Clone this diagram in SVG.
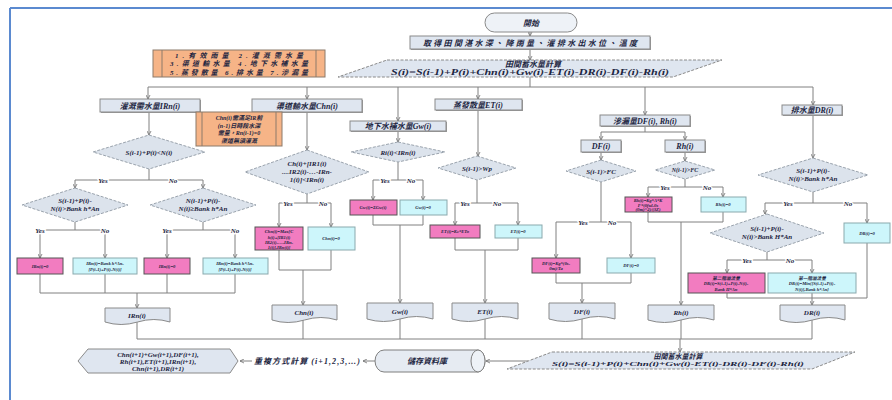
<svg xmlns="http://www.w3.org/2000/svg" width="892" height="400" viewBox="0 0 892 400">
<defs>
<marker id="ah" viewBox="0 0 10 10" refX="9" refY="5" markerWidth="5" markerHeight="5" orient="auto"><path d="M1,1 L9,5 L1,9" fill="none" stroke="#6f6f6f" stroke-width="1.6"/></marker>
<style>
.ln{stroke:#808080;fill:none;stroke-width:1}
.a{marker-end:url(#ah)}
.box{fill:#dfe6f0;stroke:#8a8a8a;stroke-width:1}
.sh{fill:#9a9a9a}
.pk{fill:#f27cc0;stroke:#555;stroke-width:1}
.cy{fill:#cdf6fb;stroke:#8aa9ad;stroke-width:1}
.dm{fill:#dce3ec;stroke:#9aa3ad;stroke-width:1;stroke-dasharray:3 1.5}
.or{fill:#f6b487;stroke:#8c7a6a;stroke-width:1}
.t{font-family:"Liberation Serif","Noto Sans CJK TC",serif;font-style:italic;font-weight:bold;fill:#1c2541;text-anchor:middle}
.s8{font-size:8px}.s7{font-size:7px}.s5{font-size:4.6px}.s6{font-size:6px}
.yn{font-family:"Liberation Serif",serif;font-style:italic;font-weight:bold;font-size:7px;fill:#1c2541;text-anchor:middle;paint-order:stroke;stroke:#fff;stroke-width:2.5}
</style>
</defs>
<rect width="892" height="400" fill="#fff"/>
<g id="frame"><line x1="10" y1="8" x2="892" y2="8" stroke="#5b8ad0" stroke-width="2"/><line x1="10" y1="8" x2="10" y2="400" stroke="#5b8ad0" stroke-width="2"/></g>

<g id="connectors">
<path class="ln a" d="M530,32V36"/>
<path class="ln a" d="M530,50V60"/>
<path class="ln" d="M530,77V87M148,87H813"/>
<path class="ln a" d="M148,87V99"/><path class="ln a" d="M307,87V99"/><path class="ln a" d="M398,87V121"/><path class="ln a" d="M478,87V99"/><path class="ln a" d="M645,87V115"/><path class="ln a" d="M813,87V105"/>
<!-- IRn -->
<path class="ln a" d="M149,112V135"/>
<path class="ln" d="M149,169V180M75,180H203"/>
<path class="ln a" d="M75,180V188"/><path class="ln a" d="M203,180V188"/>
<path class="ln" d="M75,222V230M40,230H105M203,222V230M167,230H235"/>
<path class="ln a" d="M40,230V258"/><path class="ln a" d="M105,230V258"/><path class="ln a" d="M167,230V258"/><path class="ln a" d="M235,230V258"/>
<path class="ln" d="M40,274V293M105,274V293M167,274V293M235,274V293M40,293H235"/>
<path class="ln a" d="M137,293V308"/>
<path class="ln" d="M137,322V339H812"/>
<!-- Chn -->
<path class="ln a" d="M307,112V150"/>
<path class="ln" d="M307,194V203M279,203H331"/>
<path class="ln a" d="M279,203V227"/><path class="ln a" d="M331,203V227"/>
<path class="ln" d="M279,250V270M331,250V270M279,270H331"/>
<path class="ln a" d="M303,270V305"/>
<path class="ln" d="M303,320V339"/>
<!-- Gw -->
<path class="ln a" d="M398,131V142"/>
<path class="ln" d="M398,162V180M373,180H423"/>
<path class="ln a" d="M373,180V200"/><path class="ln a" d="M423,180V200"/>
<path class="ln" d="M373,215V225M423,215V225M373,225H423"/>
<path class="ln a" d="M400,225V303"/>
<path class="ln" d="M400,319V339"/>
<!-- ET -->
<path class="ln a" d="M478,110V156"/>
<path class="ln" d="M477,180V203M455,203H518"/>
<path class="ln a" d="M455,203V225"/><path class="ln a" d="M518,203V225"/>
<path class="ln" d="M455,238V250M518,238V250M455,250H518"/>
<path class="ln a" d="M485,250V303"/>
<path class="ln" d="M485,319V339"/>
<!-- DF / Rh -->
<path class="ln" d="M645,126V132M601,132H685"/>
<path class="ln a" d="M601,132V140"/><path class="ln a" d="M685,132V140"/>
<path class="ln a" d="M601,152V160"/>
<path class="ln" d="M601,182V222M556,222H631"/>
<path class="ln a" d="M556,222V258"/><path class="ln a" d="M631,222V258"/>
<path class="ln" d="M556,273V283M631,273V283M556,283H631"/>
<path class="ln a" d="M582,283V303"/>
<path class="ln" d="M582,319V339"/>
<path class="ln a" d="M685,152V161"/>
<path class="ln" d="M685,179V187M648,187H723"/>
<path class="ln a" d="M648,187V197"/><path class="ln a" d="M723,187V197"/>
<path class="ln" d="M648,212V222M723,212V222M648,222H723"/>
<path class="ln a" d="M681,222V305"/>
<path class="ln" d="M681,320V339"/>
<!-- DR -->
<path class="ln a" d="M813,115V158"/>
<path class="ln" d="M813,192V203M765,203H867"/>
<path class="ln a" d="M765,203V214"/><path class="ln a" d="M867,203V223"/>
<path class="ln" d="M767,252V260M727,260H812"/>
<path class="ln a" d="M727,260V273"/><path class="ln a" d="M812,260V273"/>
<path class="ln" d="M727,293V298M812,293V298M867,243V298M727,298H867"/>
<path class="ln a" d="M812,298V305"/>
<path class="ln" d="M812,320V339"/>
<!-- bottom -->
<path class="ln a" d="M680,339V352"/>
<path class="ln a" d="M528,361H486"/>
<path class="ln a" d="M375,361H363"/>
<path class="ln a" d="M252,361H240"/>
</g>

<g id="start"><rect x="485" y="13" width="92" height="19" rx="9.5" fill="#eef2f7" stroke="#8a8a8a"/><text class="t s8" x="531" y="25.5">開始</text></g>
<g id="input"><rect x="411" y="37" width="240" height="13" class="sh"/><rect x="410" y="36" width="240" height="13" class="box"/><text class="t s8" x="530" y="45.5" textLength="214" lengthAdjust="spacing">取得田間湛水深、降雨量、灌排水出水位、溫度</text></g>
<g id="calc-top"><polygon points="387,60 722,60 673,77 338,77" class="box" stroke-dasharray="3 1.5"/><text class="t s8" x="533" y="67">田間蓄水量計算</text><text class="t s8" x="530" y="75" textLength="278" lengthAdjust="spacingAndGlyphs">S(i)=S(i-1)+P(i)+Chn(i)+Gw(i)-ET(i)-DR(i)-DF(i)-Rh(i)</text></g>
<g id="legend"><rect x="153" y="50" width="172" height="27" class="or"/><line x1="162" y1="50" x2="162" y2="77" stroke="#8c7a6a"/><line x1="316" y1="50" x2="316" y2="77" stroke="#8c7a6a"/>
<text class="t s7" x="239" y="57.5" textLength="128" lengthAdjust="spacing">1.有效雨量 2.灌溉需水量</text>
<text class="t s7" x="239" y="66" textLength="138" lengthAdjust="spacing">3.渠道輸水量 4.地下水補水量</text>
<text class="t s7" x="239" y="74.5" textLength="138" lengthAdjust="spacing">5.蒸發散量 6.排水量 7.滲漏量</text></g>

<g id="irn-box"><rect x="101" y="100" width="100" height="13" class="sh"/><rect x="100" y="99" width="100" height="13" class="box"/><text class="t s8" x="150" y="108.5">灌溉需水量IRn(i)</text></g>
<g id="chn-box"><rect x="253" y="100" width="110" height="13" class="sh"/><rect x="252" y="99" width="110" height="13" class="box"/><text class="t s8" x="307" y="108.5">渠道輸水量Chn(i)</text></g>
<g id="gw-box"><rect x="351" y="122" width="96" height="10" class="sh"/><rect x="350" y="121" width="96" height="10" class="box"/><text class="t s8" x="398" y="129">地下水補水量Gw(i)</text></g>
<g id="et-box"><rect x="436" y="100" width="87" height="11" class="sh"/><rect x="435" y="99" width="87" height="11" class="box"/><text class="t s8" x="478" y="107.5">蒸發散量ET(i)</text></g>
<g id="df-rh-box"><rect x="601" y="116" width="90" height="11" class="sh"/><rect x="600" y="115" width="90" height="11" class="box"/><text class="t s8" x="645" y="123.5">滲漏量DF(i), Rh(i)</text></g>
<g id="df-box"><rect x="582" y="141" width="40" height="12" class="sh"/><rect x="581" y="140" width="40" height="12" class="box"/><text class="t s8" x="601" y="149">DF(i)</text></g>
<g id="rh-box"><rect x="666" y="141" width="40" height="12" class="sh"/><rect x="665" y="140" width="40" height="12" class="box"/><text class="t s8" x="685" y="149">Rh(i)</text></g>
<g id="dr-box"><rect x="783" y="106" width="60" height="10" class="sh"/><rect x="782" y="105" width="60" height="10" class="box"/><text class="t s8" x="812" y="113">排水量DR(i)</text></g>

<g id="chn-note"><rect x="196" y="112" width="86" height="34" class="or"/><line x1="202" y1="112" x2="202" y2="146" stroke="#8c7a6a"/><line x1="276" y1="112" x2="276" y2="146" stroke="#8c7a6a"/>
<text class="t s6" x="239" y="120">Chn(i)需滿足IR前</text><text class="t s6" x="239" y="127.5">(n-1)日時段水深</text><text class="t s6" x="239" y="135">需量，Rn(i-1)=0</text><text class="t s6" x="239" y="142.5">渠道無須灌溉</text></g>

<g id="d1"><polygon points="149,135 205,152 149,169 93,152" class="dm"/><text class="t s7" x="149" y="154.5">S(i-1)+P(i)&lt;N(i)</text></g>
<g id="d2"><polygon points="75,188 128,205 75,222 22,205" class="dm"/><text class="t s7" x="75" y="203">S(i-1)+P(i)-</text><text class="t s7" x="75" y="211">N(i)&gt;Bank h*An</text></g>
<g id="d3"><polygon points="203,188 256,205 203,222 150,205" class="dm"/><text class="t s7" x="203" y="203">N(i-1)+P(i)-</text><text class="t s7" x="203" y="211">N(i)≥Bank h*An</text></g>
<g id="d4"><polygon points="307,150 369,172 307,194 245,172" class="dm"/><text class="t s7" x="307" y="166">Ch(i)+[IR1(i)</text><text class="t s7" x="307" y="174">....IR2(i)-…-IRn-</text><text class="t s7" x="307" y="182">1(i)]&lt;IRn(i)</text></g>
<g id="d5"><polygon points="398,142 445,152 398,162 351,152" class="dm"/><text class="t s7" x="398" y="154.5">Ri(i)&lt;IRn(i)</text></g>
<g id="d6"><polygon points="477,156 516,168 477,180 438,168" class="dm"/><text class="t s7" x="477" y="170.5">S(i-1)&gt;Wp</text></g>
<g id="d7"><polygon points="601,160 636,171 601,182 566,171" class="dm"/><text class="t s7" x="601" y="173.5">S(i-1)&gt;FC</text></g>
<g id="d8"><polygon points="685,161 715,170 685,179 655,170" class="dm"/><text class="t s6" x="685" y="172">N(i-1)&gt;FC</text></g>
<g id="d9"><polygon points="813,158 868,175 813,192 758,175" class="dm"/><text class="t s7" x="813" y="173">S(i-1)+P(i)-</text><text class="t s7" x="813" y="181">N(i)&gt;Bank h*An</text></g>
<g id="d10"><polygon points="767,214 824,233 767,252 710,233" class="dm"/><text class="t s7" x="767" y="231">S(i-1)+P(i)-</text><text class="t s7" x="767" y="239">N(i)&gt;Bank H*An</text></g>

<g id="labels">
<text class="yn" x="103" y="182.5">Yes</text><text class="yn" x="173" y="182.5">No</text>
<text class="yn" x="40" y="232.5">Yes</text><text class="yn" x="105" y="232.5">No</text>
<text class="yn" x="167" y="232.5">Yes</text><text class="yn" x="235" y="232.5">No</text>
<text class="yn" x="288" y="205.5">Yes</text><text class="yn" x="323" y="205.5">No</text>
<text class="yn" x="385" y="182.5">Yes</text><text class="yn" x="411" y="182.5">No</text>
<text class="yn" x="465" y="205.5">Yes</text><text class="yn" x="497" y="205.5">No</text>
<text class="yn" x="583" y="224.5">Yes</text><text class="yn" x="612" y="224.5">No</text>
<text class="yn" x="665" y="189.5">Yes</text><text class="yn" x="707" y="189.5">No</text>
<text class="yn" x="788" y="205.5">Yes</text><text class="yn" x="848" y="205.5">No</text>
<text class="yn" x="747" y="262.5">Yes</text><text class="yn" x="790" y="262.5">No</text>
</g>

<g id="irn-0a"><rect x="17" y="258" width="46" height="16" class="pk"/><text class="t s5" x="40" y="267.5">IRn(i)=0</text></g>
<g id="irn-1a"><rect x="73" y="258" width="64" height="16" class="cy"/><text class="t s5" x="105" y="265">IRn(i)=Bank h*An-</text><text class="t s5" x="105" y="271">[P(i-1)+P(i)-N(i)]</text></g>
<g id="irn-0b"><rect x="144" y="258" width="46" height="16" class="pk"/><text class="t s5" x="167" y="267.5">IRn(i)=0</text></g>
<g id="irn-1b"><rect x="203" y="258" width="65" height="16" class="cy"/><text class="t s5" x="235" y="265">IRn(i)=Bank h*An-</text><text class="t s5" x="235" y="271">[P(i-1)+P(i)-N(i)]</text></g>
<g id="chn-a"><rect x="255" y="227" width="48" height="23" class="pk"/><text class="t s5" x="279" y="233">Chn(i)=Max[C</text><text class="t s5" x="279" y="238.5">h(i)+[IR1(i)</text><text class="t s5" x="279" y="244">IR2(i)-…-IRn-</text><text class="t s5" x="279" y="249">1(i)],IRn(i)]</text></g>
<g id="chn-b"><rect x="308" y="227" width="47" height="23" class="cy"/><text class="t s5" x="331" y="240">Chn(i)=0</text></g>
<g id="gw-a"><rect x="350" y="200" width="47" height="15" class="pk"/><text class="t s5" x="373" y="209">Gw(i)=ΣGw(i)</text></g>
<g id="gw-b"><rect x="400" y="200" width="47" height="15" class="cy"/><text class="t s5" x="423" y="209">Gw(i)=0</text></g>
<g id="et-a"><rect x="430" y="225" width="50" height="13" class="pk"/><text class="t s5" x="455" y="233">ET(i)=Kc*ETo</text></g>
<g id="et-b"><rect x="495" y="225" width="47" height="13" class="cy"/><text class="t s5" x="518" y="233">ET(i)=0</text></g>
<g id="df-a"><rect x="532" y="258" width="48" height="15" class="pk"/><text class="t s5" x="556" y="264.5">DF(i)=Kg*(θs-</text><text class="t s5" x="556" y="270">θm)/Ta</text></g>
<g id="df-b"><rect x="607" y="258" width="48" height="15" class="cy"/><text class="t s5" x="631" y="267">DF(i)=0</text></g>
<g id="rh-a"><rect x="625" y="197" width="47" height="15" class="pk"/><text class="t s5" x="648" y="202">Rh(i)=Kg*A*K</text><text class="t s5" x="648" y="206.5">F*(θful-θs</text><text class="t s5" x="648" y="211">(θm)^2)/(3Z)</text></g>
<g id="rh-b"><rect x="701" y="197" width="45" height="15" class="cy"/><text class="t s5" x="723" y="206">Rh(i)=0</text></g>
<g id="dr-0"><rect x="844" y="223" width="46" height="20" class="cy"/><text class="t s5" x="867" y="234.5">DR(i)=0</text></g>
<g id="dr-2"><rect x="688" y="273" width="77" height="20" class="pk"/><text class="t s5" x="726" y="279.5">第二階溢流量</text><text class="t s5" x="726" y="285">DR(i)=S(i-1)+P(i)-N(i)-</text><text class="t s5" x="726" y="290.5">Bank H*An</text></g>
<g id="dr-1"><rect x="768" y="273" width="88" height="20" class="cy"/><text class="t s5" x="812" y="279.5">第一階溢流量</text><text class="t s5" x="812" y="285">DR(i)=Min{[S(i-1)+P(i)-</text><text class="t s5" x="812" y="290.5">N(i)],Bank h*An}</text></g>

<g id="doc-irn"><path d="M105,308h65v14q-16,-5-32.5,0t-32.5,0z" class="box"/><text class="t s7" x="137" y="317.5">IRn(i)</text></g>
<g id="doc-chn"><path d="M272,305h65v15q-16,-5-32.5,0t-32.5,0z" class="box"/><text class="t s7" x="304" y="315">Chn(i)</text></g>
<g id="doc-gw"><path d="M367,303h66v16q-16.5,-5-33,0t-33,0z" class="box"/><text class="t s7" x="400" y="313.5">Gw(i)</text></g>
<g id="doc-et"><path d="M452,303h66v16q-16.5,-5-33,0t-33,0z" class="box"/><text class="t s7" x="485" y="313.5">ET(i)</text></g>
<g id="doc-df"><path d="M549,303h66v16q-16.5,-5-33,0t-33,0z" class="box"/><text class="t s7" x="582" y="313.5">DF(i)</text></g>
<g id="doc-rh"><path d="M648,305h66v15q-16.5,-5-33,0t-33,0z" class="box"/><text class="t s7" x="681" y="315">Rh(i)</text></g>
<g id="doc-dr"><path d="M780,305h65v15q-16,-5-32.5,0t-32.5,0z" class="box"/><text class="t s7" x="812" y="315">DR(i)</text></g>

<g id="calc-bottom"><polygon points="552,352 855,352 812,369 507,369" class="box" stroke-dasharray="3 1.5"/><text class="t s7" x="678" y="358.5">田間蓄水量計算</text><text class="t s7" x="678" y="366" textLength="252" lengthAdjust="spacingAndGlyphs">S(i)=S(i-1)+P(i)+Chn(i)+Gw(i)-ET(i)-DR(i)-DF(i)-Rh(i)</text></g>
<g id="db"><path d="M384,350H478A7,11 0 0 1 478,372H384A9,11 0 0 1 384,350Z" fill="#e6ebf2" stroke="#7f7f7f"/><ellipse cx="478" cy="361" rx="7" ry="11" fill="#eef2f7" stroke="#7f7f7f"/><text class="t s8" x="427" y="364">儲存資料庫</text></g>
<g id="repeat"><text class="t s8" x="307" y="364" textLength="106" lengthAdjust="spacing">重複方式計算 (i+1,2,3,…)</text></g>
<g id="next"><polygon points="78,361 88,349 230,349 238,361 230,373 88,373" class="box"/><text class="t s7" x="158" y="357">Chn(i+1)+Gw(i+1),DF(i+1),</text><text class="t s7" x="158" y="364">Rh(i+1),ET(i+1),IRn(i+1),</text><text class="t s7" x="158" y="371">Chn(i+1),DR(i+1)</text></g>
</svg>
